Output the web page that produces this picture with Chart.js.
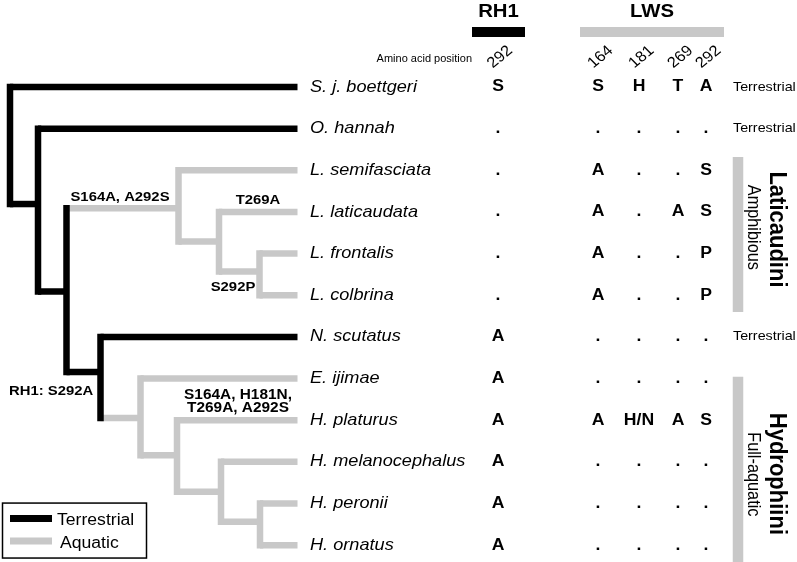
<!DOCTYPE html>
<html>
<head>
<meta charset="utf-8">
<script src="https://cdn.jsdelivr.net/npm/chart.js@4.4.1/dist/chart.umd.min.js"></script>
<style>
html,body{margin:0;padding:0;background:#fff;}
canvas{display:block;}
</style>
</head>
<body>
<canvas id="c" width="797" height="562"></canvas>
<script>
// ---------------- DATA ----------------
const taxa = ["S. j. boettgeri","O. hannah","L. semifasciata","L. laticaudata","L. frontalis","L. colbrina",
              "N. scutatus","E. ijimae","H. platurus","H. melanocephalus","H. peronii","H. ornatus"];
const tipHabitat = ["T","T","A","A","A","A","T","A","A","A","A","A"];
const habitatNote = ["Terrestrial","Terrestrial","","","","","Terrestrial","","","","",""];

const rh1Positions = ["292"];
const lwsPositions = ["164","181","269","292"];
const rh1_292 = ["S",".",".",".",".",".","A","A","A","A","A","A"];
const lws_164 = ["S",".","A","A","A","A",".",".","A",".",".","."];
const lws_181 = ["H",".",".",".",".",".",".",".","H/N",".",".","."];
const lws_269 = ["T",".",".","A",".",".",".",".","A",".",".","."];
const lws_292 = ["A",".","S","S","P","P",".",".","S",".",".","."];

// tree topology (tips = row index, internal nodes by name)
const nodeNames    = ["root","A","B","Lat","D","E","C","F","G","H","I"];
const nodeChildren = [[0,"A"],[1,"B"],["Lat","C"],[2,"D"],[3,"E"],[4,5],[6,"F"],[7,"G"],[8,"H"],[9,"I"],[10,11]];
const nodeDepth    = [10,38,66.5,178.5,219,259.5,100.5,140.5,177,221,260];
const nodeRow      = [1.4,2.81,4.91,2.91,3.71,4.43,6.84,7.95,8.84,9.72,10.44];
const nodeHabitat  = ["T","T","T","A","A","A","T","A","A","A","A"];
const tipDepth = 297.5;

const mutations = [
  {text:"S164A, A292S", x:120, row:2.64, align:"center", size:13.5},
  {text:"T269A",        x:258, row:2.71, align:"center", size:13.5},
  {text:"S292P",        x:233, row:4.80, align:"center", size:13.5},
  {text:"RH1: S292A",   x:9,   row:7.30, align:"left",   size:13.5},
  {text:"S164A, H181N,",x:238, row:7.39, align:"center", size:14},
  {text:"T269A, A292S", x:238, row:7.71, align:"center", size:14}
];

const groups = [
  {name:"Laticaudini", habit:"Amphibious",   from:1.68, to:5.40, nameRow:3.42, habitRow:3.37},
  {name:"Hydrophiini", habit:"Full-aquatic", from:6.96, to:11.5, nameRow:9.29, habitRow:9.30}
];
const legendItems = [{label:"Terrestrial", habitat:"T"},{label:"Aquatic", habitat:"A"}];

// ---------------- STYLE ----------------
const COLORS = {T:"#000000", A:"#c8c8c8"};
const BW = 6.5;
const FONT = '"Liberation Sans", Arial, sans-serif';
const SX = 1.1;
const colX = {rh1:[498], lws:[598,639,678,706]};

// ---------------- BUILD DATASETS ----------------
const datasets = [];
function seg(x1,y1,x2,y2,color,cap,order,width){
  datasets.push({type:"line", data:[{x:x1,y:y1},{x:x2,y:y2}], borderColor:color, borderWidth:width||BW,
    borderCapStyle:cap, pointRadius:0, pointHoverRadius:0, fill:false, tension:0, order:order, clip:false});
}
function refPos(r){
  if (typeof r === "number") return {x:tipDepth, y:r, c:COLORS[tipHabitat[r]]};
  const i = nodeNames.indexOf(r);
  return {x:nodeDepth[i], y:nodeRow[i], c:COLORS[nodeHabitat[i]]};
}
nodeChildren.forEach((ch,i)=>{
  const ps = ch.map(refPos);
  const ys = ps.map(p=>p.y);
  seg(nodeDepth[i], Math.min(...ys), nodeDepth[i], Math.max(...ys), COLORS[nodeHabitat[i]], "square", 0);
  ps.forEach(p=> seg(nodeDepth[i], p.y, p.x, p.y, p.c, "butt", 1));
});
// header bars
seg(472, -1.32, 525, -1.32, COLORS.T, "butt", 2, 10);
seg(580, -1.32, 724, -1.32, COLORS.A, "butt", 2, 10);
// group bars
groups.forEach(g=> seg(738, g.from, 738, g.to, COLORS.A, "butt", 2, 10.5));

// ---------------- TEXT PLUGIN ----------------
function txt(ctx, s, x, y, font, align, color, rot){
  ctx.save();
  ctx.translate(x,y);
  ctx.scale(SX,1);
  if (rot) ctx.rotate(rot);
  ctx.font = font;
  ctx.textAlign = align || "left";
  ctx.textBaseline = "middle";
  ctx.fillStyle = color || "#000";
  ctx.fillText(s,0,0);
  ctx.restore();
}
const textPlugin = {
  id:"treeText",
  beforeDraw(chart){
    const ctx = chart.ctx; ctx.save(); ctx.fillStyle="#fff"; ctx.fillRect(0,0,chart.width,chart.height); ctx.restore();
  },
  afterDatasetsDraw(chart){
    const ctx = chart.ctx;
    const X = v=>chart.scales.x.getPixelForValue(v);
    const Y = r=>chart.scales.y.getPixelForValue(r);
    // taxa
    taxa.forEach((t,i)=> txt(ctx, t, X(310), Y(i), "italic 16.5px "+FONT, "left"));
    // habitat notes
    habitatNote.forEach((t,i)=>{ if(t) txt(ctx, t, X(733), Y(i), "13px "+FONT, "left"); });
    // headers
    txt(ctx, "RH1", X(498.5), Y(-1.80), "bold 18.5px "+FONT, "center");
    txt(ctx, "LWS", X(652), Y(-1.80), "bold 18.5px "+FONT, "center");
    txt(ctx, "Amino acid position", X(472), Y(-0.67), "10px "+FONT, "right");
    const rot = -42*Math.PI/180;
    rh1Positions.forEach((p,k)=> txt(ctx, p, X(colX.rh1[k]+2), Y(-0.72), "15px "+FONT, "center", "#000", rot));
    lwsPositions.forEach((p,k)=> txt(ctx, p, X(colX.lws[k]+2.5), Y(-0.72), "15px "+FONT, "center", "#000", rot));
    // residues
    const cols = [[colX.rh1[0], rh1_292],[colX.lws[0], lws_164],[colX.lws[1], lws_181],[colX.lws[2], lws_269],[colX.lws[3], lws_292]];
    cols.forEach(([cx,vals])=> vals.forEach((v,i)=> txt(ctx, v, X(cx), Y(i), "bold 16px "+FONT, "center")));
    // mutations
    mutations.forEach(m=> txt(ctx, m.text, X(m.x), Y(m.row), "bold "+m.size+"px "+FONT, m.align));
    // group labels (vertical)
    groups.forEach(g=>{
      txt(ctx, g.name, X(777), Y(g.nameRow), "bold 22px "+FONT, "center", "#000", Math.PI/2);
      txt(ctx, g.habit, X(753), Y(g.habitRow), "16.3px "+FONT, "center", "#000", Math.PI/2);
    });
    // legend
    ctx.save();
    ctx.lineWidth = 1.5; ctx.strokeStyle = "#000";
    ctx.strokeRect(X(2.5), Y(9.99), X(146.5)-X(2.5), Y(11.31)-Y(9.99));
    const lrows = [10.36, 10.90], trows = [10.40, 10.96], tx = [57, 60];
    legendItems.forEach((it,k)=>{
      ctx.beginPath(); ctx.lineWidth = 7; ctx.lineCap = "butt"; ctx.strokeStyle = COLORS[it.habitat];
      ctx.moveTo(X(10), Y(lrows[k])); ctx.lineTo(X(52), Y(lrows[k])); ctx.stroke();
      txt(ctx, it.label, X(tx[k]), Y(trows[k]), "16px "+FONT, "left");
    });
    ctx.restore();
  }
};

new Chart(document.getElementById("c"), {
  type:"line",
  data:{datasets},
  options:{
    responsive:false, devicePixelRatio:1, animation:false, events:[],
    layout:{padding:0},
    plugins:{legend:{display:false}, tooltip:{enabled:false}},
    scales:{
      x:{type:"linear", min:0, max:797, display:false},
      y:{type:"linear", min:-2.089, max:11.405, reverse:true, display:false}
    }
  },
  plugins:[textPlugin]
});
</script>
</body>
</html>
